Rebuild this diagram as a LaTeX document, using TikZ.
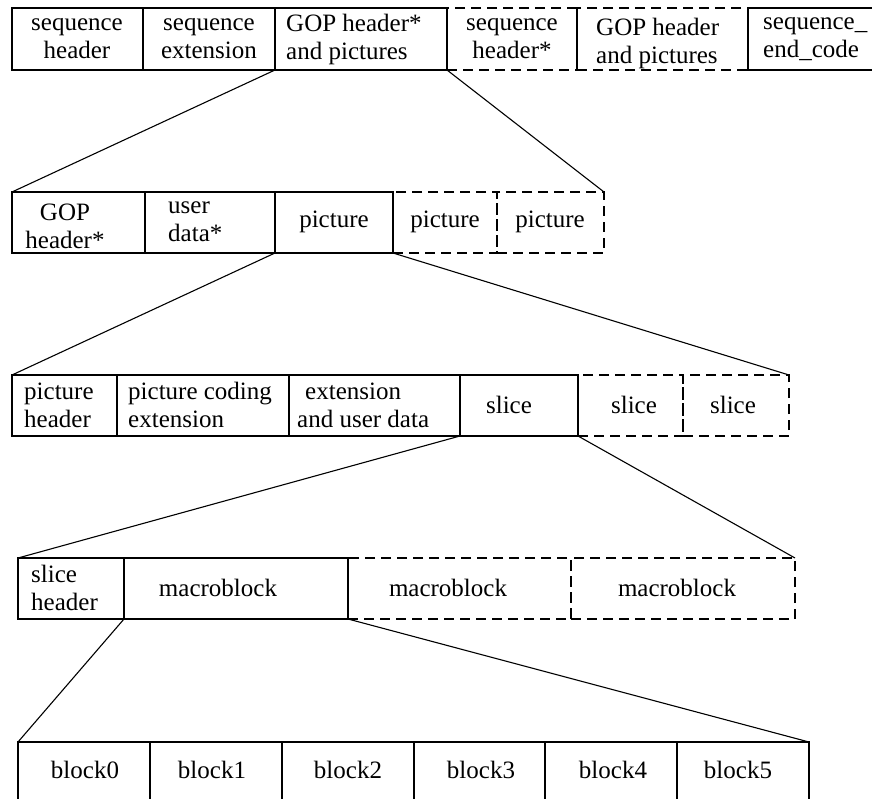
\documentclass[tikz,border=0pt]{standalone}
\usepackage{fontspec}
\setmainfont{Liberation Serif}
\begin{document}
\begin{tikzpicture}[x=1pt,y=-1pt,
  cell/.style={draw, line width=1.1pt, inner sep=0pt, outer sep=0pt, anchor=north west},
  dcell/.style={cell, dash pattern=on 10pt off 6pt},
  lbl/.style={inner sep=0pt, font=\fontsize{25}{28}\selectfont, align=center},
  lbll/.style={lbl, align=left, anchor=west},
  link/.style={line width=1.1pt}]
\clip (0,0) rectangle (872,799);

% ---- sequence layer ----
\node[dcell, minimum width=130pt, minimum height=62pt] (a4) at (447,8) {};
\node[dcell, minimum width=171pt, minimum height=62pt] (a5) at (577,8) {};
\node[cell, minimum width=131pt, minimum height=62pt] (a1) at (12,8) {};
\node[cell, minimum width=132pt, minimum height=62pt] (a2) at (143,8) {};
\node[cell, minimum width=172pt, minimum height=62pt] (a3) at (275,8) {};
\node[cell, minimum width=160pt, minimum height=62pt] (a6) at (748,8) {};

\node[lbl]  (ta1) at (77,39)  {sequence\\header};
\node[lbl]  (ta2) at (209,39) {sequence\\extension};
\node[lbll] (ta3) at (286,39) {GOP header*\\and pictures};
\node[lbl]  (ta4) at (512,39) {sequence\\header*};
\node[lbll] (ta5) at (596,43) {GOP header\\and pictures};
\node[lbll] (ta6) at (763,39) {sequence\_\\end\_code};

% ---- group of pictures layer ----
\node[dcell, minimum width=104pt, minimum height=61pt] (b4) at (393,192) {};
\node[dcell, minimum width=107pt, minimum height=61pt] (b5) at (497,192) {};
\node[cell, minimum width=133pt, minimum height=61pt] (b1) at (12,192) {};
\node[cell, minimum width=130pt, minimum height=61pt] (b2) at (145,192) {};
\node[cell, minimum width=118pt, minimum height=61pt] (b3) at (275,192) {};

\node[lbl]  (tb1) at (65,226)  {GOP\\header*};
\node[lbll] (tb2) at (168,222) {user\\data*};
\node[lbl]  (tb3) at (334,222) {picture};
\node[lbl]  (tb4) at (445,222) {picture};
\node[lbl]  (tb5) at (550,222) {picture};

% ---- picture layer ----
\node[dcell, minimum width=105pt, minimum height=61pt] (c5) at (578,375) {};
\node[dcell, minimum width=106pt, minimum height=61pt] (c6) at (683,375) {};
\node[cell, minimum width=105pt, minimum height=61pt] (c1) at (12,375) {};
\node[cell, minimum width=172pt, minimum height=61pt] (c2) at (117,375) {};
\node[cell, minimum width=171pt, minimum height=61pt] (c3) at (289,375) {};
\node[cell, minimum width=118pt, minimum height=61pt] (c4) at (460,375) {};

\node[lbll] (tc1) at (24,405)  {picture\\header};
\node[lbll] (tc2) at (128,405) {picture coding\\extension};
\node[lbll] (tc3) at (297,405) {\hspace{8pt}extension\\and user data};
\node[lbl]  (tc4) at (509,405) {slice};
\node[lbl]  (tc5) at (634,405) {slice};
\node[lbl]  (tc6) at (733,405) {slice};

% ---- slice layer ----
\node[dcell, minimum width=223pt, minimum height=61pt] (d3) at (348,558) {};
\node[dcell, minimum width=224pt, minimum height=61pt] (d4) at (571,558) {};
\node[cell, minimum width=106pt, minimum height=61pt] (d1) at (18,558) {};
\node[cell, minimum width=224pt, minimum height=61pt] (d2) at (124,558) {};

\node[lbll] (td1) at (31,588)  {slice\\header};
\node[lbl]  (td2) at (218,588) {macroblock};
\node[lbl]  (td3) at (448,588) {macroblock};
\node[lbl]  (td4) at (677,588) {macroblock};

% ---- macroblock layer ----
\node[cell, minimum width=132pt, minimum height=80pt] (e1) at (18,742) {};
\node[cell, minimum width=132pt, minimum height=80pt] (e2) at (150,742) {};
\node[cell, minimum width=132pt, minimum height=80pt] (e3) at (282,742) {};
\node[cell, minimum width=131pt, minimum height=80pt] (e4) at (414,742) {};
\node[cell, minimum width=132pt, minimum height=80pt] (e5) at (545,742) {};
\node[cell, minimum width=132pt, minimum height=80pt] (e6) at (677,742) {};

\node[lbl] (te1) at (85,770)  {block0};
\node[lbl] (te2) at (212,770) {block1};
\node[lbl] (te3) at (348,770) {block2};
\node[lbl] (te4) at (481,770) {block3};
\node[lbl] (te5) at (613,770) {block4};
\node[lbl] (te6) at (738,770) {block5};

% ---- expansion lines ----
\draw[link] (a3.south west) -- (b1.north west);
\draw[link] (a3.south east) -- (b5.north east);
\draw[link] (b3.south west) -- (c1.north west);
\draw[link] (b3.south east) -- (c6.north east);
\draw[link] (c4.south west) -- (d1.north west);
\draw[link] (c4.south east) -- (d4.north east);
\draw[link] (d2.south west) -- (e1.north west);
\draw[link] (d2.south east) -- (e6.north east);
\end{tikzpicture}
\end{document}
